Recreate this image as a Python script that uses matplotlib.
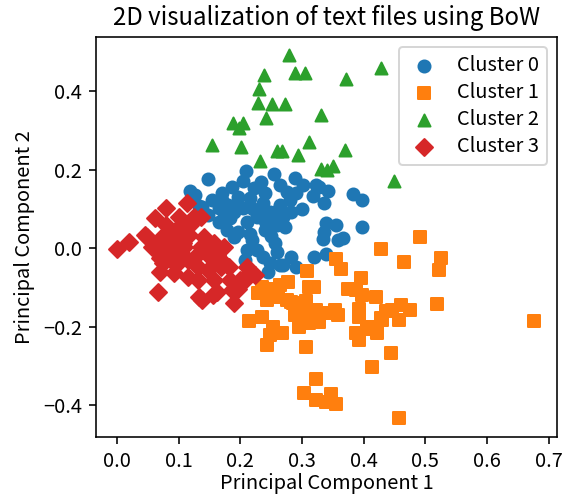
import numpy as np
import matplotlib.pyplot as plt

plt.rcParams['font.family'] = ['Noto Sans CJK JP', 'DejaVu Sans']

# cluster 0 (blue circles)
c0_x = [0.147, 0.209, 0.255, 0.119, 0.127, 0.186, 0.234, 0.222, 0.288, 0.302,
        0.322, 0.328, 0.343, 0.318, 0.335, 0.383, 0.397, 0.275, 0.280, 0.154,
        0.170, 0.138, 0.165, 0.197, 0.205, 0.216, 0.237, 0.248, 0.264, 0.283,
        0.269, 0.253, 0.189, 0.227, 0.184, 0.211, 0.165, 0.178, 0.197, 0.216,
        0.189, 0.272, 0.339, 0.355, 0.398, 0.335, 0.334, 0.358, 0.366, 0.256,
        0.259, 0.219, 0.227, 0.211, 0.237, 0.208, 0.248, 0.264, 0.283, 0.291,
        0.320, 0.339, 0.245, 0.269, 0.133, 0.147, 0.174, 0.195,
        0.240, 0.260, 0.250, 0.240, 0.180, 0.170, 0.290, 0.300, 0.240, 0.265,
        0.205, 0.230, 0.260, 0.220]
c0_y = [0.176, 0.197, 0.189, 0.146, 0.135, 0.156, 0.169, 0.152, 0.178, 0.162,
        0.162, 0.156, 0.146, 0.132, 0.116, 0.138, 0.122, 0.143, 0.122, 0.122,
        0.122, 0.104, 0.101, 0.131, 0.101, 0.127, 0.114, 0.092, 0.110, 0.092,
        0.080, 0.080, 0.092, 0.080, 0.076, 0.067, 0.067, 0.046, 0.042, 0.037,
        0.029, 0.053, 0.064, 0.059, 0.054, 0.042, 0.022, 0.020, 0.027, 0.012,
        -0.009, 0.020, -0.005, -0.005, -0.022, -0.031, -0.039, -0.043, -0.022, -0.048,
        -0.022, -0.014, -0.060, -0.042, 0.107, 0.084, 0.080, 0.105,
        0.070, 0.060, 0.030, 0.045, 0.110, 0.140, 0.140, 0.100, 0.140, 0.160,
        0.170, 0.100, 0.095, 0.100]

# cluster 1 (orange squares)
c1_x = [0.492, 0.429, 0.466, 0.525, 0.523, 0.355, 0.363, 0.308, 0.396, 0.277,
        0.319, 0.312, 0.374, 0.387, 0.229, 0.253, 0.261, 0.243, 0.275, 0.286,
        0.307, 0.398, 0.420, 0.519, 0.460, 0.476, 0.436, 0.446, 0.393, 0.393,
        0.323, 0.339, 0.358, 0.288, 0.304, 0.296, 0.312, 0.323, 0.328, 0.235,
        0.214, 0.253, 0.267, 0.248, 0.243, 0.306, 0.429, 0.457, 0.409, 0.422,
        0.387, 0.393, 0.445, 0.413, 0.323, 0.304, 0.323, 0.347, 0.355, 0.339,
        0.458, 0.676, 0.256, 0.264, 0.235, 0.283, 0.299, 0.353, 0.406, 0.430]
c1_y = [0.029, -0.003, -0.035, -0.024, -0.056, -0.029, -0.052, -0.058, -0.076, -0.087,
        -0.100, -0.100, -0.103, -0.107, -0.114, -0.107, -0.124, -0.132, -0.131, -0.141,
        -0.134, -0.120, -0.124, -0.143, -0.145, -0.158, -0.160, -0.158, -0.154, -0.175,
        -0.158, -0.166, -0.171, -0.171, -0.162, -0.201, -0.192, -0.183, -0.188, -0.175,
        -0.186, -0.201, -0.217, -0.222, -0.247, -0.251, -0.179, -0.183, -0.201, -0.217,
        -0.217, -0.234, -0.268, -0.304, -0.334, -0.370, -0.387, -0.372, -0.397, -0.392,
        -0.434, -0.185, -0.103, -0.094, -0.099, -0.137, -0.154, -0.158, -0.205, -0.183]

# cluster 2 (green triangles)
c2_x = [0.279, 0.238, 0.288, 0.305, 0.428, 0.371, 0.230, 0.228, 0.252, 0.272,
        0.331, 0.242, 0.188, 0.204, 0.198, 0.154, 0.201, 0.311, 0.259, 0.268,
        0.294, 0.369, 0.232, 0.331, 0.341, 0.350, 0.450]
c2_y = [0.492, 0.441, 0.445, 0.445, 0.460, 0.431, 0.406, 0.371, 0.368, 0.368,
        0.340, 0.332, 0.319, 0.319, 0.305, 0.262, 0.258, 0.271, 0.247, 0.248,
        0.237, 0.250, 0.222, 0.201, 0.199, 0.210, 0.171]

# cluster 3 (red diamonds)
c3_x = [0.000, 0.020, 0.062, 0.079, 0.114, 0.066, 0.069, 0.093, 0.115, 0.048,
        0.056, 0.077, 0.069, 0.101, 0.125, 0.136, 0.096, 0.117, 0.141, 0.158,
        0.174, 0.131, 0.115, 0.152, 0.163, 0.131, 0.147, 0.168, 0.182, 0.158,
        0.131, 0.133, 0.155, 0.190, 0.200, 0.088, 0.085, 0.107, 0.045, 0.138,
        0.197, 0.211, 0.224, 0.208, 0.186, 0.162, 0.144, 0.074, 0.101, 0.114,
        0.109, 0.136, 0.173, 0.216, 0.184, 0.079, 0.103, 0.119, 0.091, 0.071,
        0.097]
c3_y = [-0.002, 0.016, 0.077, 0.101, 0.114, -0.111, -0.060, -0.064, -0.073, 0.029,
        0.003, -0.005, -0.026, 0.080, 0.080, 0.080, 0.046, 0.033, 0.029, 0.012,
        0.003, -0.014, -0.031, -0.026, -0.018, -0.048, -0.056, -0.048, -0.048, -0.082,
        -0.082, -0.124, -0.120, -0.141, -0.082, -0.031, 0.020, 0.012, 0.033, -0.132,
        -0.103, -0.048, -0.069, -0.082, -0.107, -0.111, -0.005, -0.039, -0.035, 0.054,
        0.003, 0.003, -0.039, -0.060, -0.082, 0.059, -0.005, 0.059, 0.000, 0.025,
        0.020]

x_ticks = [0.0, 0.1, 0.2, 0.3, 0.4, 0.5, 0.6, 0.7]
y_ticks = [-0.4, -0.2, 0.0, 0.2, 0.4]

fig = plt.figure(figsize=(575 / 144, 495 / 144), dpi=144)
ax = fig.add_subplot(111)
fig.subplots_adjust(left=0.167, right=0.968, bottom=0.117, top=0.925)

ax.scatter(c0_x, c0_y, marker='o', label='Cluster 0')
ax.scatter(c1_x, c1_y, marker='s', label='Cluster 1')
ax.scatter(c2_x, c2_y, marker='^', label='Cluster 2')
ax.scatter(c3_x, c3_y, marker='D', label='Cluster 3')

ax.set_xlim(-0.034, 0.713)
ax.set_ylim(-0.4815, 0.5376)
ax.set_xticks(x_ticks)
ax.set_yticks(y_ticks)
ax.set_xlabel('Principal Component 1', labelpad=0.5)
ax.set_ylabel('Principal Component 2')
ax.set_title('2D visualization of text files using BoW')
ax.legend(loc='upper right', labelspacing=0.3, handlelength=1.7)

fig.savefig('out.png', dpi=144)
